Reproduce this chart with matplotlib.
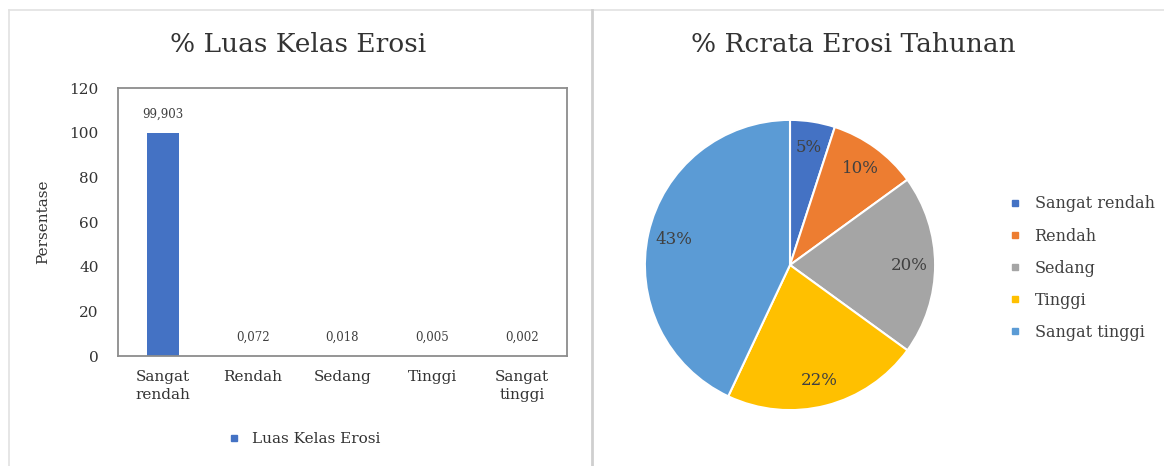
import matplotlib
matplotlib.use("Agg")
import matplotlib.pyplot as plt
from matplotlib.lines import Line2D
import numpy as np

# Data
bar_categories = ["Sangat\nrendah", "Rendah", "Sedang", "Tinggi", "Sangat\ntinggi"]
luas_kelas = [99.903, 0.072, 0.018, 0.005, 0.002]
y_ticks = [0, 20, 40, 60, 80, 100, 120]

pie_labels = ["Sangat rendah", "Rendah", "Sedang", "Tinggi", "Sangat tinggi"]
rerata_erosi = [5, 10, 20, 22, 43]
pie_colors = ["#4472C4", "#ED7D31", "#A5A5A5", "#FFC000", "#5B9BD5"]
bar_color = "#4472C4"

plt.rcParams["font.family"] = ["DejaVu Serif"]
W, H = 1164, 466
fig = plt.figure(figsize=(W / 100, H / 100), dpi=100)
fig.patch.set_facecolor("white")

def px(x0, y0, x1, y1):
    return [x0 / W, 1 - y1 / H, (x1 - x0) / W, (y1 - y0) / H]

# panel frames
frame = fig.add_axes([0, 0, 1, 1], zorder=-1)
frame.set_xlim(0, W); frame.set_ylim(H, 0); frame.axis("off")
frame.plot([9, 1164], [10, 10], color="#e2e2e2", lw=1.2)
frame.plot([9, 9], [10, 466], color="#e2e2e2", lw=1.2)
frame.plot([592, 592], [10, 466], color="#cfcfcf", lw=2)

# ---- Bar chart ----
ax = fig.add_axes(px(118, 88, 567, 356))
xs = range(len(luas_kelas))
ax.bar(xs, luas_kelas, width=0.36, color=bar_color, zorder=2)
ax.set_ylim(0, 120)
ax.set_xlim(-0.5, len(luas_kelas) - 0.5)
ax.set_yticks(y_ticks)
ax.set_yticklabels([str(t) for t in y_ticks], fontsize=11, color="#333333")
ax.set_xticks(list(xs))
ax.set_xticklabels(bar_categories, fontsize=11, color="#333333", linespacing=1.4)
ax.tick_params(length=0, pad=10)
ax.tick_params(axis="y", pad=14)
for s in ax.spines.values():
    s.set_color("#8c8c8c")
    s.set_linewidth(1.3)
ax.set_ylabel("Persentase", fontsize=11, color="#333333", labelpad=14)
for x, v in zip(xs, luas_kelas):
    ax.annotate(f"{v:.3f}".replace(".", ","), (x, v), xytext=(0, 13.5),
                textcoords="offset points", ha="center", va="center",
                fontsize=8.5, color="#404040")
fig.text(298 / W, 1 - 45 / H, "% Luas Kelas Erosi", ha="center", va="center",
         fontsize=19, color="#333333")
handle = [Line2D([], [], marker="s", ls="", color=bar_color, markersize=5)]
ax.legend(handle, ["Luas Kelas Erosi"], loc="center", bbox_to_anchor=(0.405, -0.31),
          frameon=False, fontsize=11, handletextpad=0.2, labelcolor="#333333")

# ---- Pie chart ----
pax = fig.add_axes(px(642, 117, 938, 413))
wedges, _ = pax.pie(rerata_erosi, colors=pie_colors, startangle=90, counterclock=False,
                    wedgeprops=dict(edgecolor="white", linewidth=1.5), radius=1)
pax.set_xlim(-1.02, 1.02); pax.set_ylim(-1.02, 1.02)
pax.set_aspect("equal")
start = 90.0
for v in rerata_erosi:
    mid = start - v / 100 * 360 / 2
    r = 0.82
    pax.text(r * np.cos(np.radians(mid)), r * np.sin(np.radians(mid)), f"{v}%",
             ha="center", va="center", fontsize=12, color="#404040")
    start -= v / 100 * 360
fig.text(853 / W, 1 - 45 / H, "% Rcrata Erosi Tahunan", ha="center", va="center",
         fontsize=19, color="#333333")
handles = [Line2D([], [], marker="s", ls="", color=c, markersize=4) for c in pie_colors]
fig.legend(handles, pie_labels, loc="upper left", bbox_to_anchor=(985 / W, 1 - 181 / H),
           frameon=False, fontsize=11.5, handletextpad=0.2, labelspacing=0.95,
           labelcolor="#404040")

fig.savefig("out.png", dpi=100, facecolor="white")
